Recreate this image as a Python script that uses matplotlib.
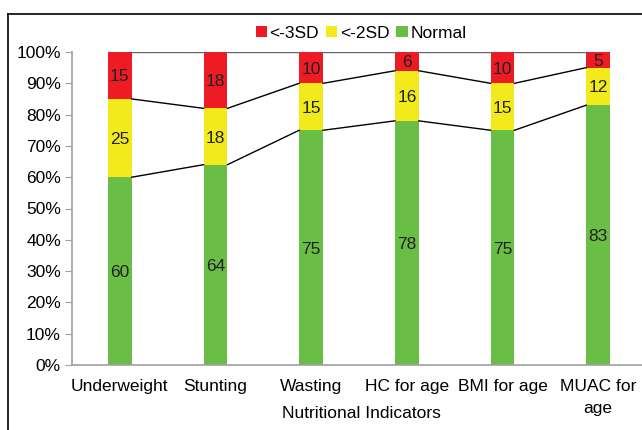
import matplotlib
matplotlib.use("Agg")
import matplotlib.pyplot as plt
from matplotlib.lines import Line2D
import numpy as np

plt.rcParams['font.family'] = ['Liberation Sans', 'DejaVu Sans']

categories = ["Underweight", "Stunting", "Wasting", "HC for age", "BMI for age", "MUAC for\nage"]
normal = [60, 64, 75, 78, 75, 83]
sd2 = [25, 18, 15, 16, 15, 12]
sd3 = [15, 18, 10, 6, 10, 5]
yticks = [0, 10, 20, 30, 40, 50, 60, 70, 80, 90, 100]

c_red = "#ED1C24"
c_yel = "#F2EA1A"
c_grn = "#6ABD45"

fig = plt.figure(figsize=(6.42, 4.30), dpi=100)
ax = fig.add_axes([72/642, 1-365/430, 574/642, 313/430])

x = np.arange(len(categories))
w = 0.25
normal_a = np.array(normal, float)
sd2_a = np.array(sd2, float)
sd3_a = np.array(sd3, float)

b1 = ax.bar(x, normal_a, w, color=c_grn, label="Normal", zorder=2)
b2 = ax.bar(x, sd2_a, w, bottom=normal_a, color=c_yel, label="<-2SD", zorder=2)
b3 = ax.bar(x, sd3_a, w, bottom=normal_a+sd2_a, color=c_red, label="<-3SD", zorder=2)

# series lines
for tops, col in [(normal_a, "black"), (normal_a+sd2_a, "black"), (normal_a+sd2_a+sd3_a, "#666666")]:
    for i in range(len(x)-1):
        ax.plot([x[i]+w/2, x[i+1]-w/2], [tops[i], tops[i+1]], color=col, lw=1.0, zorder=3)

fs = 12.5
for i in range(len(x)):
    ax.text(x[i], normal_a[i]/2, str(normal[i]), ha="center", va="center_baseline", fontsize=fs, color="#222222", zorder=4)
    ax.text(x[i], normal_a[i]+sd2_a[i]/2, str(sd2[i]), ha="center", va="center_baseline", fontsize=fs, color="#222222", zorder=4)
    ax.text(x[i], normal_a[i]+sd2_a[i]+sd3_a[i]/2, str(sd3[i]), ha="center", va="center_baseline", fontsize=fs, color="#222222", zorder=4)

ax.set_xlim(-0.5, len(x)-0.5)
ax.set_ylim(0, 100)
ax.set_yticks(yticks)
ax.set_yticklabels([f"{v}%" for v in yticks], fontsize=fs)
ax.set_xticks(x)
ax.set_xticklabels(categories, fontsize=fs, linespacing=1.6)
ax.tick_params(axis='x', length=0, pad=10)
ax.tick_params(axis='y', length=5, color="#A0A0A0", pad=3)
for s in ["top", "right"]:
    ax.spines[s].set_visible(False)
for s in ["left", "bottom"]:
    ax.spines[s].set_color("#A0A0A0")
    ax.spines[s].set_linewidth(1.2)
fig.text(361/642, 1-413/430, "Nutritional Indicators", ha="center", va="center", fontsize=fs)

handles = [b3, b2, b1]
fig.legend(handles, ["<-3SD", "<-2SD", "Normal"], loc="center", bbox_to_anchor=(361/642, 1-33/430),
           ncol=3, frameon=False, fontsize=fs, handlelength=0.65, handleheight=0.65,
           handletextpad=0.15, columnspacing=0.4)

# outer frame (left and top edges visible)
fig.add_artist(Line2D([8/642, 8/642], [0, 1-14/430], transform=fig.transFigure, color="black", lw=1.2))
fig.add_artist(Line2D([8/642, 1], [1-14/430, 1-14/430], transform=fig.transFigure, color="black", lw=1.2))

fig.savefig("out.png", dpi=100)
